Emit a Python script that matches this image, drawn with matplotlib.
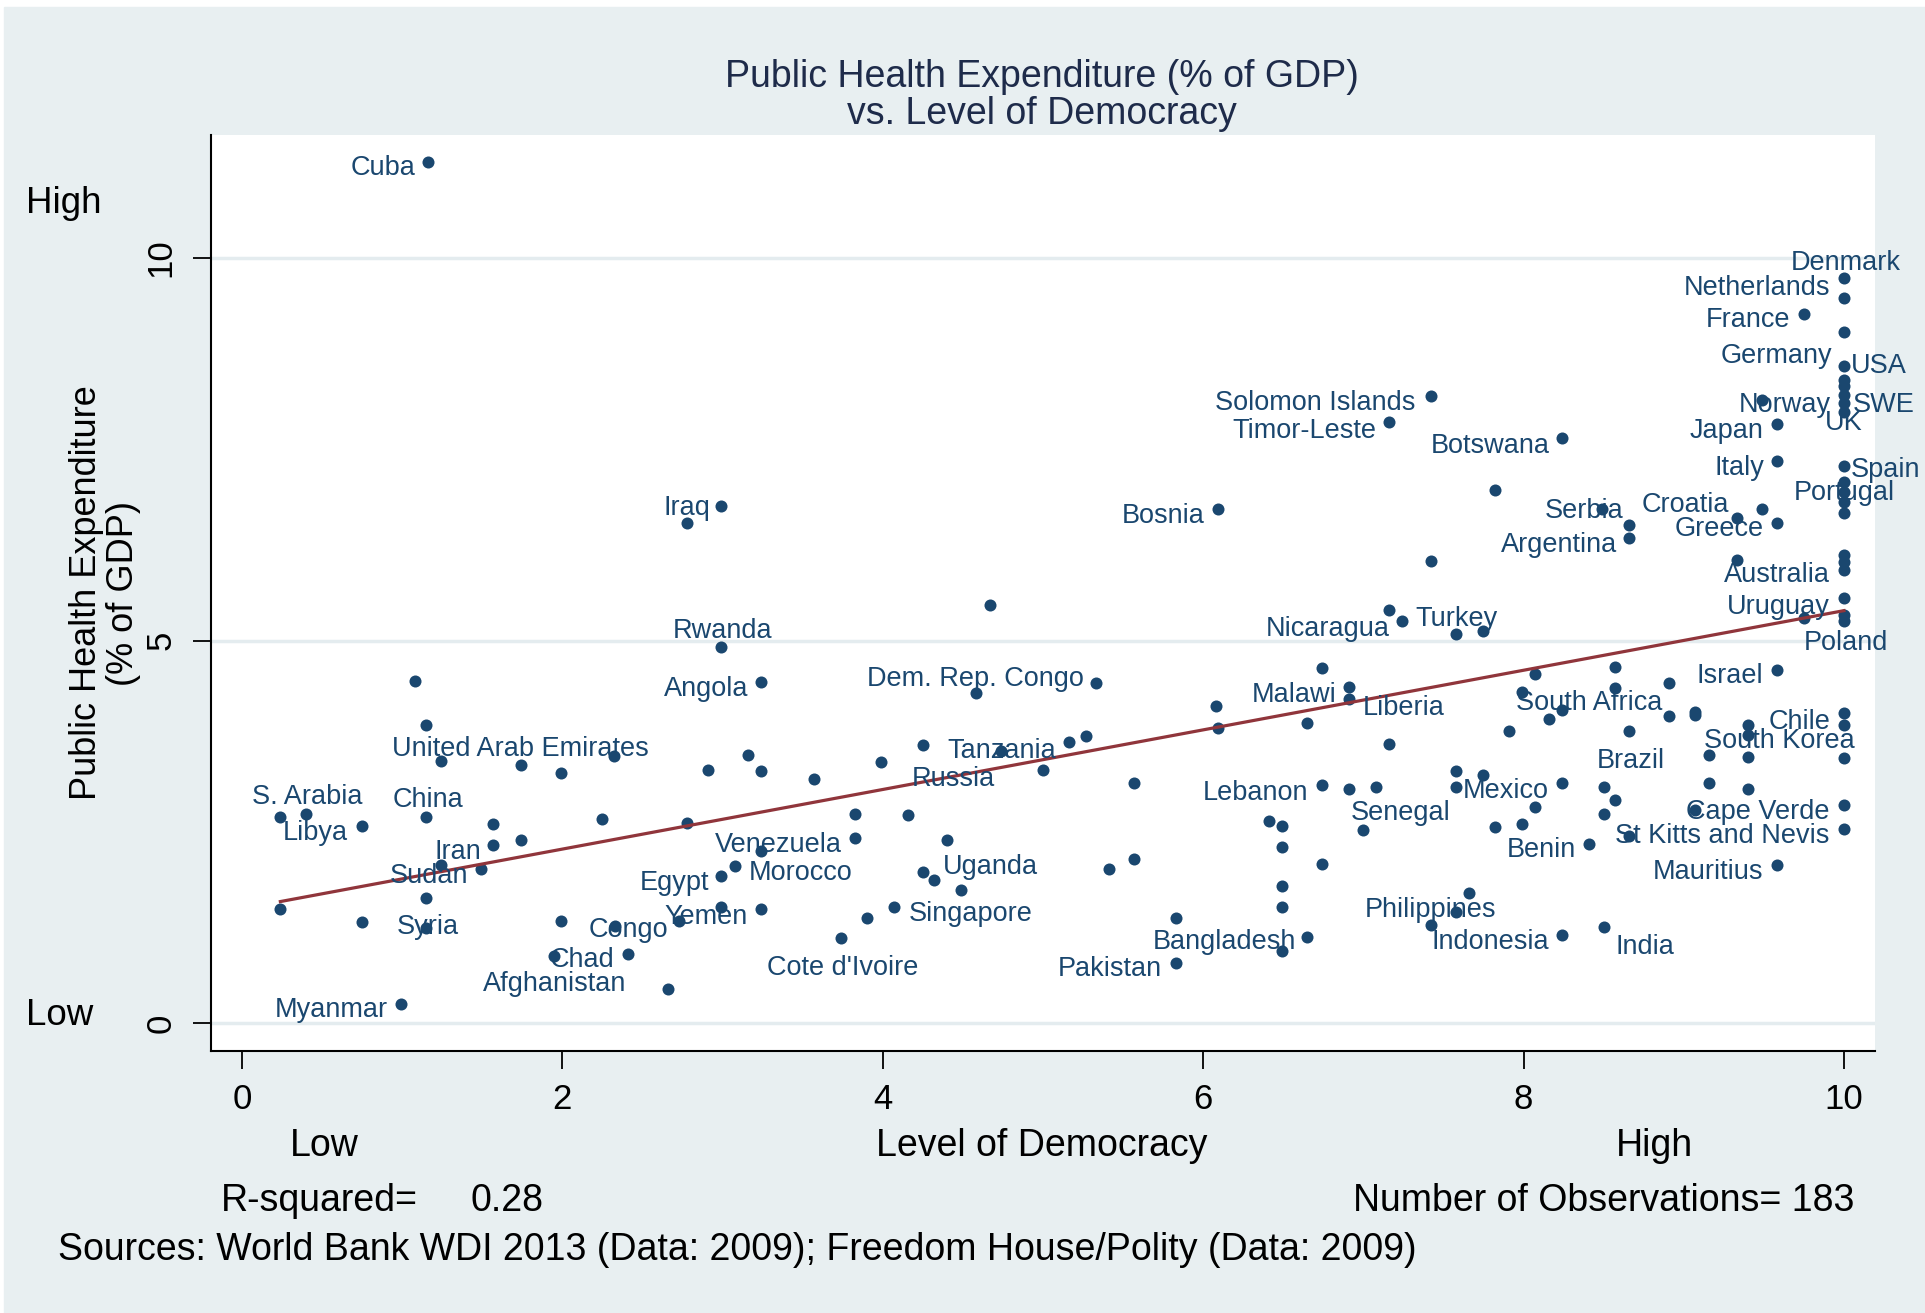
import matplotlib.pyplot as plt
from matplotlib.patches import Rectangle
from matplotlib.transforms import offset_copy

plt.rcParams['font.family'] = ['Liberation Sans', 'DejaVu Sans']

# level of democracy (0 = low, 10 = high)
democracy = [
    1.16, 1.08, 1.15, 1.24, 1.74, 1.99, 2.32, 0.24, 0.40, 0.75,
    1.15, 1.57, 2.25, 2.78, 1.57, 1.74, 1.24, 1.49, 1.15, 0.24,
    0.75, 1.15, 1.99, 2.33, 2.73, 1.95, 2.41, 2.66, 0.99,
    2.99, 2.78, 6.09, 4.67, 2.99, 3.24, 5.33, 4.58, 6.08, 6.09,
    4.25, 4.74, 5.16, 5.27, 3.99, 3.16, 2.91, 3.24, 3.57, 5.00,
    5.57, 3.83, 4.16, 3.83, 3.24, 4.40, 3.08, 2.99, 4.25, 4.32,
    4.49, 5.57, 5.41, 2.99, 3.24, 4.07, 3.90, 3.74, 5.83, 5.83,
    6.49, 6.41, 6.49, 6.49, 6.49, 6.49, 6.65, 6.74, 7.00, 6.74,
    6.91, 7.08, 6.65, 7.16, 6.74, 6.91, 6.91,
    7.42, 7.16, 8.24, 7.82, 8.49, 8.66, 8.66, 9.49, 9.33, 9.58,
    9.33, 7.42, 7.24, 7.16, 7.58, 7.75, 9.75, 9.75, 9.49, 9.58, 9.58,
    10, 10, 10, 10, 10, 10, 10, 10, 10, 10, 10, 10, 10,
    10, 10, 10, 10, 10, 10, 10, 10, 10, 10, 10, 10,
    8.07, 8.57, 8.91, 9.58, 7.99, 8.57, 8.24, 8.16, 7.91, 8.66,
    8.91, 9.07, 9.07, 9.40, 9.40, 9.16, 9.40, 7.58, 7.75, 7.58,
    8.24, 8.50, 8.57, 8.07, 8.50, 9.16, 9.40, 9.07, 8.66, 7.82,
    7.99, 8.41, 9.58, 7.66, 7.58, 7.42, 8.24, 8.50,
]

# public health expenditure, % of GDP
health_exp = [
    11.25, 4.47, 3.90, 3.42, 3.38, 3.27, 3.49, 2.69, 2.74, 2.58,
    2.70, 2.60, 2.67, 2.61, 2.33, 2.39, 2.07, 2.02, 1.64, 1.49,
    1.32, 1.24, 1.34, 1.27, 1.33, 0.88, 0.90, 0.45, 0.25,
    6.76, 6.53, 6.72, 5.46, 4.91, 4.46, 4.44, 4.31, 4.14, 3.86,
    3.64, 3.56, 3.67, 3.75, 3.41, 3.50, 3.31, 3.29, 3.19, 3.31,
    3.14, 2.74, 2.72, 2.42, 2.25, 2.39, 2.06, 1.93, 1.97, 1.87,
    1.74, 2.15, 2.01, 1.52, 1.49, 1.52, 1.38, 1.11, 1.37, 0.79,
    2.58, 2.64, 2.30, 1.79, 1.52, 0.94, 1.13, 2.08, 2.53, 3.11,
    3.06, 3.08, 3.92, 3.65, 4.64, 4.39, 4.23,
    8.19, 7.86, 7.64, 6.97, 6.72, 6.51, 6.34, 6.72, 6.60, 6.53,
    6.05, 6.04, 5.25, 5.40, 5.09, 5.12, 5.29, 9.27, 8.14, 7.83, 7.34,
    9.74, 9.47, 9.03, 8.58, 8.40, 8.32, 8.21, 8.10, 7.99, 7.28, 7.07, 6.94, 6.81,
    6.66, 6.12, 6.03, 5.92, 5.55, 5.33, 5.25, 4.05, 3.90, 3.46, 2.85, 2.54,
    4.56, 4.66, 4.45, 4.62, 4.33, 4.38, 4.09, 3.98, 3.82, 3.82,
    4.01, 4.07, 4.03, 3.90, 3.77, 3.51, 3.48, 3.30, 3.24, 3.08,
    3.14, 3.09, 2.92, 2.83, 2.73, 3.14, 3.06, 2.78, 2.44, 2.56,
    2.60, 2.34, 2.07, 1.70, 1.46, 1.28, 1.15, 1.26,
]

# country labels (text centre, in data units)
label_names = [
    "Cuba", "United Arab Emirates", "S. Arabia", "China", "Libya", "Iran",
    "Sudan", "Syria", "Congo", "Chad", "Afghanistan", "Myanmar",
    "Iraq", "Bosnia", "Rwanda", "Angola", "Dem. Rep. Congo", "Tanzania",
    "Russia", "Venezuela", "Morocco", "Egypt", "Uganda", "Yemen",
    "Singapore", "Cote d'Ivoire", "Pakistan", "Bangladesh",
    "Solomon Islands", "Timor-Leste", "Botswana", "Nicaragua", "Turkey",
    "Malawi", "Liberia", "Lebanon", "Senegal", "Mexico", "Philippines",
    "Indonesia", "India", "Benin", "South Africa", "Brazil",
    "St Kitts and Nevis", "Cape Verde", "Mauritius", "Israel", "Chile",
    "South Korea", "Serbia", "Argentina", "Croatia", "Greece",
    "Australia", "Uruguay", "Poland", "Denmark", "Netherlands", "France",
    "Germany", "USA", "Norway", "SWE", "UK", "Japan", "Italy", "Spain",
    "Portugal",
]
label_x = [
    0.88, 1.74, 0.41, 1.16, 0.46, 1.35,
    1.17, 1.16, 2.41, 2.12, 1.95, 0.56,
    2.78, 5.75, 3.00, 2.90, 4.58, 4.74,
    4.44, 3.35, 3.49, 2.70, 4.67, 2.90,
    4.55, 3.75, 5.42, 6.13,
    6.70, 6.63, 7.79, 6.78, 7.58,
    6.57, 7.25, 6.33, 7.23, 7.89, 7.42,
    7.79, 8.76, 8.11, 8.41, 8.67,
    9.24, 9.46, 9.15, 9.29, 9.72,
    9.60, 8.38, 8.22, 9.01, 9.22,
    9.58, 9.59, 10.01, 10.01, 9.46, 9.40,
    9.58, 10.22, 9.63, 10.25, 10.00, 9.27, 9.35, 10.26,
    10.00,
]
label_y = [
    11.22, 3.63, 3.00, 2.96, 2.53, 2.29,
    1.97, 1.30, 1.27, 0.87, 0.56, 0.22,
    6.78, 6.68, 5.17, 4.41, 4.55, 3.61,
    3.24, 2.38, 2.01, 1.88, 2.09, 1.44,
    1.48, 0.77, 0.76, 1.11,
    8.15, 7.79, 7.59, 5.20, 5.33,
    4.34, 4.17, 3.06, 2.79, 3.08, 1.53,
    1.11, 1.04, 2.31, 4.23, 3.48,
    2.50, 2.81, 2.03, 4.58, 3.98,
    3.73, 6.74, 6.29, 6.82, 6.50,
    5.90, 5.49, 5.01, 9.98, 9.65, 9.24,
    8.77, 8.63, 8.12, 8.13, 7.89, 7.79, 7.30, 7.28,
    6.98,
]

# fitted line end points
fit_x = [0.24, 10.0]
fit_y = [1.59, 5.39]

r_squared = 0.28
n_obs = 183

navy = "#1a476f"
maroon = "#90353b"
bg = "#e8eff1"
W, H = 1925, 1313
dy = 3.7  # text centre sits a little lower than the bbox centre


def fy(px):
    return 1 - (px + dy) / H


fig = plt.figure(figsize=(W / 100, H / 100), dpi=100)
fig.patch.set_facecolor("white")
fig.add_artist(Rectangle((4 / W, 0), 1 - 4 / W, 1 - 7 / H,
                         transform=fig.transFigure, color=bg, zorder=0))

ax = fig.add_axes([211 / W, 1 - 1051 / H, (1875 - 211) / W, (1051 - 135) / H])
ax.set_facecolor("white")
ax.set_xlim(-0.193, 10.194)
ax.set_ylim(-0.362, 11.603)

ax.set_xticks([0, 2, 4, 6, 8, 10])
ax.set_yticks([0, 5, 10])
ax.yaxis.grid(True, color="#e4ecef", lw=2.5)
ax.set_axisbelow(True)
for s in ["top", "right"]:
    ax.spines[s].set_visible(False)
for s in ["left", "bottom"]:
    ax.spines[s].set_linewidth(1.5)
ax.tick_params(axis="both", direction="out", length=13, width=1.3,
               labelsize=25, colors="black")
ax.tick_params(axis="x", pad=10)
ax.tick_params(axis="y", pad=11, labelrotation=90)
for t in ax.get_yticklabels():
    t.set_va("center")

ax.scatter(democracy, health_exp, s=75, color=navy, linewidths=0, zorder=3)
ax.plot(fit_x, fit_y, color=maroon, lw=2.3, zorder=4)

lab_tr = offset_copy(ax.transData, fig=fig, x=0, y=-dy, units="dots")
for name, lx, ly in zip(label_names, label_x, label_y):
    ax.text(lx, ly, name, ha="center", va="center", fontsize=19.5,
            color=navy, zorder=5, transform=lab_tr)

title_color = "#1e2b4a"
fig.text(1042 / W, fy(73.7), "Public Health Expenditure (% of GDP)",
         ha="center", va="center", fontsize=27, color=title_color)
fig.text(1042 / W, fy(110.5), "vs. Level of Democracy",
         ha="center", va="center", fontsize=27, color=title_color)

fig.text(63.8 / W, fy(200), "High", ha="center", va="center", fontsize=26.5)
fig.text(60 / W, fy(1011.6), "Low", ha="center", va="center", fontsize=26.5)
fig.text(105 / W, 1 - 593 / H, "Public Health Expenditure\n(% of GDP)",
         ha="center", va="center", rotation=90, fontsize=26,
         multialignment="center", linespacing=1.1)

fig.text(324 / W, fy(1142), "Low", ha="center", va="center", fontsize=27)
fig.text(1042 / W, fy(1142), "Level of Democracy", ha="center",
         va="center", fontsize=27)
fig.text(1654 / W, fy(1142), "High", ha="center", va="center", fontsize=27)

fig.text(221 / W, fy(1197), "R-squared=", ha="left", va="center", fontsize=27)
fig.text(470 / W, fy(1197), f"{r_squared:.2f}", ha="left", va="center",
         fontsize=27)
fig.text(1854 / W, fy(1197), f"Number of Observations= {n_obs}",
         ha="right", va="center", fontsize=27)
fig.text(57.7 / W, fy(1246),
         "Sources: World Bank WDI 2013 (Data: 2009); Freedom House/Polity (Data: 2009)",
         ha="left", va="center", fontsize=27)

fig.savefig("out.png", dpi=100, facecolor=fig.get_facecolor())
